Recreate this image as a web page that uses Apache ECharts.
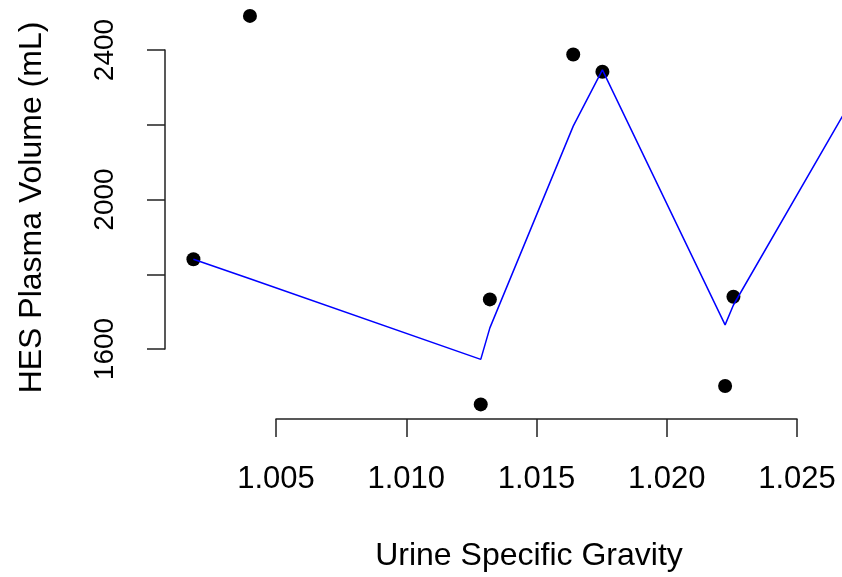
<!DOCTYPE html>
<html>
<head>
<meta charset="utf-8">
<script src="https://cdn.jsdelivr.net/npm/echarts@6/dist/echarts.min.js"></script>
<style>
html,body{margin:0;padding:0;background:#fff;}
#chart{width:842px;height:577px;}
</style>
</head>
<body>
<div id="chart"></div>
<script>
// Observed points
const pointX = [1.00183, 1.0040, 1.01286, 1.01321, 1.01641, 1.01753, 1.02224, 1.02256];
const pointY = [1842, 2491, 1455, 1735, 2388, 2342, 1504, 1742];
// Fitted (blue) line
const fitX = [1.00183, 1.0040, 1.01286, 1.01321, 1.01641, 1.01753, 1.02224, 1.02256, 1.0270];
const fitY = [1842, 1790, 1575, 1659, 2197, 2347, 1667, 1720, 2254];
// Axis ticks and labels
const xTicks = [1.005, 1.010, 1.015, 1.020, 1.025];
const xTickLabels = ['1.005', '1.010', '1.015', '1.020', '1.025'];
const yTicks = [1600, 1800, 2000, 2200, 2400];
const yTickLabels = ['1600', '', '2000', '', '2400'];

const W = 842, H = 577;
// Visible axis box (tick range) in pixels
const AX = {left: 276, right: 797, top: 50, bottom: 350};
const xMin = xTicks[0], xMax = xTicks[xTicks.length - 1];
const yMin = yTicks[0], yMax = yTicks[yTicks.length - 1];
// Data grid spans the whole canvas with the same scale
const xPerPx = (xMax - xMin) / (AX.right - AX.left);
const yPerPx = (yMax - yMin) / (AX.bottom - AX.top);
const fullXMin = xMin - AX.left * xPerPx;
const fullXMax = xMin + (W - AX.left) * xPerPx;
const fullYMax = yMax + AX.top * yPerPx;
const fullYMin = yMin - (H - AX.bottom) * yPerPx;

const FONT = 'Liberation Sans, Arial, sans-serif';
const chart = echarts.init(document.getElementById('chart'));
function lookup(ticks, labels, v) {
  const i = ticks.findIndex(t => Math.abs(t - v) < 1e-7 * Math.max(1, Math.abs(t)));
  return i >= 0 ? labels[i] : '';
}
const axisCol = '#222';
chart.setOption({
  animation: false,
  backgroundColor: '#fff',
  grid: [
    {left: AX.left, right: W - AX.right, top: AX.top, bottom: H - AX.bottom},
    {left: 0, right: 0, top: 0, bottom: 0}
  ],
  xAxis: [{
    gridIndex: 0, type: 'value', min: xMin, max: xMax, interval: 0.005, offset: 70,
    splitLine: {show: false},
    axisLine: {show: true, lineStyle: {color: axisCol, width: 1.5}},
    axisTick: {show: true, length: 18, lineStyle: {color: axisCol, width: 1.5}},
    axisLabel: {
      margin: 45, color: '#000', fontFamily: FONT, fontSize: 31,
      formatter: v => lookup(xTicks, xTickLabels, v)
    },
    name: 'Urine Specific Gravity', nameLocation: 'middle', nameGap: 121,
    nameTextStyle: {color: '#000', fontFamily: FONT, fontSize: 32, padding: [0, 15, 0, 0]}
  }, {
    gridIndex: 1, type: 'value', min: fullXMin, max: fullXMax, show: false
  }],
  yAxis: [{
    gridIndex: 0, type: 'value', min: yMin, max: yMax, interval: 200, offset: 111,
    splitLine: {show: false},
    axisLine: {show: true, lineStyle: {color: axisCol, width: 1.5}},
    axisTick: {show: true, length: 18, lineStyle: {color: axisCol, width: 1.5}},
    axisLabel: {
      rotate: 90, margin: 46, color: '#000', fontFamily: FONT, fontSize: 28,
      formatter: v => lookup(yTicks, yTickLabels, v)
    },
    name: 'HES Plasma Volume (mL)', nameLocation: 'middle', nameGap: 117,
    nameTextStyle: {color: '#000', fontFamily: FONT, fontSize: 32, padding: [0, 16, 0, 0]}
  }, {
    gridIndex: 1, type: 'value', min: fullYMin, max: fullYMax, show: false
  }],
  series: [
    {
      type: 'line', xAxisIndex: 1, yAxisIndex: 1, clip: true, showSymbol: false, silent: true,
      data: fitX.map((x, i) => [x, fitY[i]]),
      lineStyle: {color: '#0000ff', width: 1.5}
    },
    {
      type: 'scatter', xAxisIndex: 1, yAxisIndex: 1, clip: false, symbol: 'circle', symbolSize: 14,
      data: pointX.map((x, i) => [x, pointY[i]]),
      itemStyle: {color: '#000', opacity: 1}
    }
  ]
});
</script>
</body>
</html>
